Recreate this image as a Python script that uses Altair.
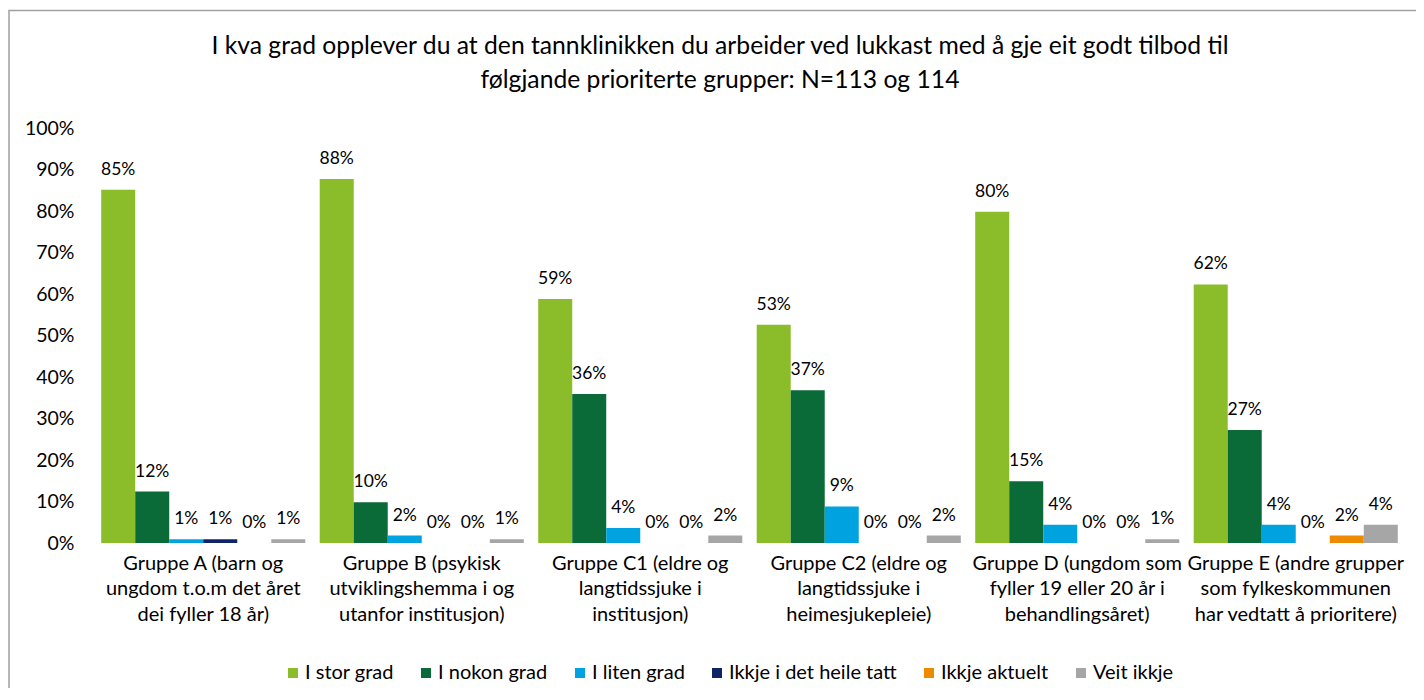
import altair as alt
import pandas as pd

title_lines = [
    "I kva grad opplever du at den tannklinikken du arbeider ved lukkast med å gje eit godt tilbod til",
    "følgjande prioriterte grupper: N=113 og 114",
]
groups = [
    "Gruppe A (barn og|ungdom t.o.m det året|dei fyller 18 år)",
    "Gruppe B (psykisk|utviklingshemma i og|utanfor institusjon)",
    "Gruppe C1 (eldre og|langtidssjuke i|institusjon)",
    "Gruppe C2 (eldre og|langtidssjuke i|heimesjukepleie)",
    "Gruppe D (ungdom som|fyller 19 eller 20 år i|behandlingsåret)",
    "Gruppe E (andre grupper|som fylkeskommunen|har vedtatt å prioritere)",
]
series = ["I stor grad", "I nokon grad", "I liten grad",
          "Ikkje i det heile tatt", "Ikkje aktuelt", "Veit ikkje"]
colors = ["#8BBC2A", "#0A6B38", "#00A3E0", "#0F2466", "#EE8A00", "#A6A6A6"]

# values per series (percent), one entry per group
i_stor_grad = [85.1, 87.7, 58.8, 52.6, 79.8, 62.3]
i_nokon_grad = [12.4, 9.8, 35.9, 36.8, 14.9, 27.2]
i_liten_grad = [0.9, 1.8, 3.6, 8.8, 4.4, 4.4]
ikkje_heile = [0.9, 0.0, 0.0, 0.0, 0.0, 0.0]
ikkje_aktuelt = [0.0, 0.0, 0.0, 0.0, 0.0, 1.8]
veit_ikkje = [0.9, 0.9, 1.8, 1.8, 0.9, 4.4]

all_vals = [i_stor_grad, i_nokon_grad, i_liten_grad, ikkje_heile, ikkje_aktuelt, veit_ikkje]
rows = []
for s, vals in zip(series, all_vals):
    for g, v in zip(groups, vals):
        rows.append({"group": g, "series": s, "value": v, "label": f"{round(v):.0f}%"})
df = pd.DataFrame(rows)

FONT = "Lato"

x_enc = alt.X("group:N", sort=groups, title=None,
              scale=alt.Scale(paddingInner=0.066, paddingOuter=0.033),
              axis=alt.Axis(labelExpr="split(datum.label, '|')", labelAngle=0,
                            labelFontSize=20, labelColor="#000000", labelFont=FONT,
                            labelLineHeight=25.5, labelPadding=10, ticks=False,
                            domain=False, labelBaseline="top", labelLimit=400))
xoff = alt.XOffset("series:N", sort=series, scale=alt.Scale(paddingInner=0, paddingOuter=0))
y_enc = alt.Y("value:Q", title=None, scale=alt.Scale(domain=[0, 100], nice=False),
              axis=alt.Axis(values=list(range(0, 101, 10)), labelExpr="datum.value + '%'",
                            labelFontSize=19.5, labelColor="#000000", labelFont=FONT,
                            labelPadding=20, ticks=False, domain=False, grid=False))

base = alt.Chart(df)
bars = base.mark_bar().encode(
    x=x_enc, xOffset=xoff, y=y_enc,
    color=alt.Color("series:N", sort=series,
                    scale=alt.Scale(domain=series, range=colors),
                    legend=alt.Legend(title=None, orient="none", direction="horizontal",
                                      legendX=189, legendY=535, symbolType="square",
                                      symbolSize=100, symbolStrokeWidth=0,
                                      labelFontSize=20, labelFont=FONT, labelColor="#000000",
                                      labelOffset=2, columnPadding=22, labelLimit=300)),
)
texts = base.mark_text(baseline="bottom", dy=-11, fontSize=17.5, font=FONT, color="#000000").encode(
    x=alt.X("group:N", sort=groups), xOffset=xoff, y=alt.Y("value:Q"), text="label:N"
)
border = alt.Chart(pd.DataFrame({"a": [0]})).mark_rect(
    fill=None, stroke="#A0A0A0", strokeWidth=1.5
).encode(x=alt.value(-85), x2=alt.value(3000), y=alt.value(-117.5), y2=alt.value(3000))

t1 = alt.Chart(pd.DataFrame({"t": [title_lines[0]]})).mark_text(
    fontSize=24.7, font=FONT, color="#000000", baseline="middle", align="center"
).encode(text="t:N", x=alt.value(626), y=alt.value(-81))
t2 = alt.Chart(pd.DataFrame({"t": [title_lines[1]]})).mark_text(
    fontSize=24.7, font=FONT, color="#000000", baseline="middle", align="center"
).encode(text="t:N", x=alt.value(626), y=alt.value(-47))

chart = alt.layer(border, t1, t2, bars, texts).properties(
    width=1311, height=415,
    padding={"left": 86, "top": 120, "right": 11, "bottom": 145},
    autosize=alt.AutoSizeParams(type="none"),
).configure_view(stroke=None)

chart.save("out.html", embed_options={"renderer": "svg", "actions": False})
